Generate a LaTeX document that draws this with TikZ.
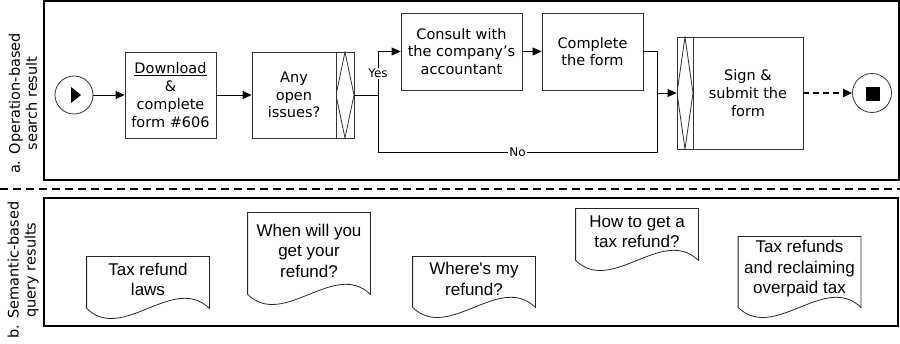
\documentclass[tikz,border=0pt]{standalone}
\usepackage{fontspec}
\usetikzlibrary{arrows.meta}
\newfontfamily\flowfont{DejaVu Sans}
\newfontfamily\docfont{Liberation Sans}

\tikzset{
  task/.style={draw=black!80, line width=0.8pt, inner sep=0pt, align=center, font=\flowfont\fontsize{14.5}{17.8}\selectfont},
  gate/.style={task, path picture={\draw[line width=0.8pt] (path picture bounding box.north) -- (path picture bounding box.west) -- (path picture bounding box.south) -- (path picture bounding box.east) -- cycle;}},
  event/.style={circle, draw=black!80, line width=0.8pt, minimum size=38pt, inner sep=0pt},
  branch/.style={fill=white, inner sep=1pt, font=\flowfont\fontsize{12}{14}\selectfont},
  side/.style={rotate=90, align=center, font=\flowfont\fontsize{14.5}{17}\selectfont},
  frame/.style={line width=1.2pt},
  docpage/.style={font=\docfont\fontsize{17}{20.5}\selectfont, align=center, inner sep=0pt, minimum width=122pt,
    append after command={\pgfextra{\draw[line width=0.8pt, draw=black!85] ([yshift=-6pt]\tikzlastnode.south west) -- (\tikzlastnode.north west) -- (\tikzlastnode.north east) -- ([yshift=-6pt]\tikzlastnode.south east) .. controls +(-36,-35) and +(36,35) .. ([yshift=-6pt]\tikzlastnode.south west);}}}
}

\begin{document}
\begin{tikzpicture}[x=1pt, y=-1pt, >={Triangle[length=9pt,width=8pt]}, line width=0.8pt]
	\useasboundingbox (0,0) rectangle (900,344);

	% the two result panels
	\draw[frame] (44,1) rectangle (899,180);
	\draw[frame] (44,198) rectangle (898,326);
	\draw[line width=1.8pt, dash pattern=on 8pt off 5pt] (0,189) -- (900,189);
	\node[side] (labA) at (23,103.5) {a. Operation-based\\search result};
	\node[side] (labB) at (23,270) {b. Semantic-based\\query results};

	% process
	\node[event, path picture={\fill ([shift={(-3,-8)}]path picture bounding box.center) -- ++(0,16) -- ++(10,-8) -- cycle;}] (start) at (74,95) {};
	\node[task, minimum width=91pt, minimum height=86pt] (download) at (170.5,95) {\underline{Download}\\\&\\complete\\form \#606};
	\node[task, minimum width=84pt, minimum height=86pt] (issues) at (294,95) {Any\\open\\issues?};
	\node[gate, minimum width=18pt, minimum height=86pt] (gate1) at (345,95) {};
	\node[task, minimum width=121pt, minimum height=77pt] (consult) at (461.5,51.5) {Consult with\\the company’s\\accountant};
	\node[task, minimum width=101pt, minimum height=77pt] (complete) at (592.5,51.5) {Complete\\the form};
	\node[gate, minimum width=16pt, minimum height=112pt] (gate2) at (685,93) {};
	\node[task, minimum width=110pt, minimum height=112pt] (sign) at (748,93) {Sign \&\\submit the\\form};
	\node[event, minimum size=39pt, path picture={\fill ([shift={(-6,-6)}]path picture bounding box.center) rectangle ++(14,14);}] (stop) at (872,93) {};
	\coordinate (split) at (378,95);
	\coordinate (nobend) at (378,152);
	\coordinate (merge) at (657,93);

	\draw[->] (start) -- (download);
	\draw[->] (download) -- (issues);
	\draw (gate1) -- (split);
	\draw[->] (split) |- node[branch, pos=0.25] {Yes} (consult);
	\draw (split) -- (nobend) -| node[branch, pos=0.25] {No} (merge);
	\draw[->] (consult) -- (complete);
	\draw (complete) -| (merge);
	\draw[->] (merge) -- (gate2);
	\draw[->, line width=1.8pt, dash pattern=on 6pt off 4pt] (sign) -- (stop);

	% query results
	\node[docpage, minimum height=45pt] (laws) at (148,279.5) {Tax refund\\laws};
	\node[docpage, minimum height=75pt] (when) at (309,250.5) {When will you\\get your\\refund?};
	\node[docpage, minimum height=44pt] (where) at (474,279) {Where\textquotesingle s my\\refund?};
	\node[docpage, minimum height=45pt] (howto) at (637,231.5) {How to get a\\tax refund?};
	\node[docpage, minimum height=64pt] (reclaim) at (799.5,269) {Tax refunds\\and reclaiming\\overpaid tax};
\end{tikzpicture}
\end{document}
